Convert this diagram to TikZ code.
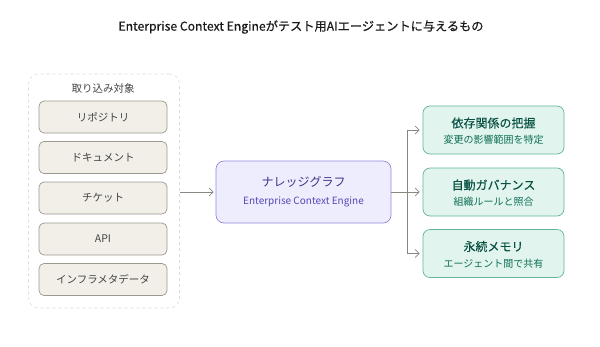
\documentclass[tikz,border=0pt]{standalone}
\usepackage{fontspec}
\setmainfont{Noto Sans CJK JP}
\newfontfamily\medfont{Noto Sans CJK JP}[FakeBold=0.5]
\newfontfamily\semifont{Noto Sans CJK JP}[FakeBold=0.3]
\usepackage{xcolor}
\usetikzlibrary{arrows.meta}

\definecolor{srcfill}{HTML}{F1EFE8}
\definecolor{srcdraw}{HTML}{9A988F}
\definecolor{srctext}{HTML}{444441}
\definecolor{grpdraw}{HTML}{DDDBD3}
\definecolor{kgfill}{HTML}{EEEDFE}
\definecolor{kgdraw}{HTML}{8F88DE}
\definecolor{kgtext}{HTML}{3C3489}
\definecolor{kgsub}{HTML}{534AB7}
\definecolor{outfill}{HTML}{E1F5EE}
\definecolor{outdraw}{HTML}{62B696}
\definecolor{outtext}{HTML}{085041}
\definecolor{outsub}{HTML}{0F6E56}
\definecolor{arrowgray}{HTML}{888780}

\begin{document}
\begin{tikzpicture}[
    x=1pt, y=-1pt,
    srcbox/.style={draw=srcdraw, fill=srcfill, line width=0.7pt, rounded corners=5pt, minimum width=128pt, minimum height=32pt, text=srctext, font=\fontsize{10.5}{12}\selectfont},
    kgbox/.style={draw=kgdraw, fill=kgfill, line width=0.7pt, rounded corners=8pt, minimum width=175pt, minimum height=62pt},
    outbox/.style={draw=outdraw, fill=outfill, line width=0.7pt, rounded corners=7pt, minimum width=141pt, minimum height=48pt},
    outtitle/.style={text=outtext, font=\semifont\fontsize{12}{14}\selectfont},
    outsub/.style={text=outsub, font=\fontsize{10}{12}\selectfont},
    arrow/.style={-{Straight Barb[length=4pt, width=8pt]}, draw=arrowgray, line width=0.8pt}
]
\useasboundingbox (0,0) rectangle (600,346);

\node[font=\medfont\fontsize{12.2}{14}\selectfont, text=black!90] (title) at (301,27) {Enterprise Context Engineがテスト用AIエージェントに与えるもの};

% ingestion sources
\node[draw=grpdraw, dashed, line width=0.6pt, rounded corners=10pt, minimum width=151pt, minimum height=234pt] (group) at (104,191) {};
\node[text=srctext, font=\fontsize{10.5}{12}\selectfont] (grouplabel) at (103,89) {取り込み対象};
\node[srcbox] (repo) at (103,117) {リポジトリ};
\node[srcbox] (docs) at (103,157.5) {ドキュメント};
\node[srcbox] (ticket) at (103,198) {チケット};
\node[srcbox] (api) at (103,239) {API};
\node[srcbox] (infra) at (103,279.5) {インフラメタデータ};

% knowledge graph
\node[kgbox] (kg) at (303.5,192) {};
\node[text=kgtext, font=\fontsize{12}{14}\selectfont] (kgtitle) at (303.5,182) {ナレッジグラフ};
\node[text=kgsub, font=\fontsize{10}{12}\selectfont] (kgsub) at (303.5,202) {Enterprise Context Engine};

% outputs
\node[outbox] (dep) at (493.5,130) {};
\node[outtitle] at (493.5,123) {依存関係の把握};
\node[outsub] at (493.5,140) {変更の影響範囲を特定};
\node[outbox] (gov) at (493.5,192) {};
\node[outtitle] at (493.5,185) {自動ガバナンス};
\node[outsub] at (493.5,202) {組織ルールと照合};
\node[outbox] (mem) at (493.5,253.5) {};
\node[outtitle] at (493.5,246.5) {永続メモリ};
\node[outsub] at (493.5,263.5) {エージェント間で共有};

\coordinate (fork) at (407,192);

\draw[arrow] (group.east |- kg.west) -- ([xshift=-2pt]kg.west);
\draw[draw=arrowgray, line width=0.8pt] (kg.east) -- (fork);
\draw[arrow] (fork) |- ([xshift=-3pt]dep.west);
\draw[arrow] (fork) -- ([xshift=-3pt]gov.west);
\draw[arrow] (fork) |- ([xshift=-3pt]mem.west);
\end{tikzpicture}
\end{document}
